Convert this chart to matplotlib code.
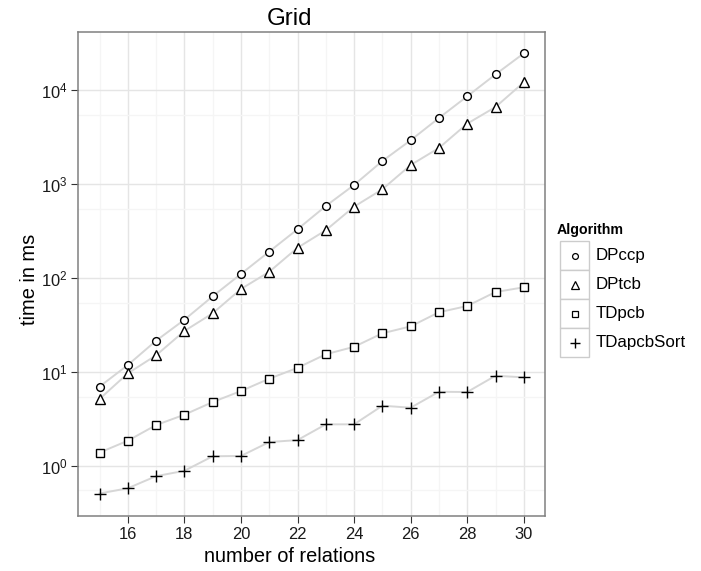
import numpy as np
import matplotlib
matplotlib.use("Agg")
import matplotlib.pyplot as plt
from matplotlib.patches import Rectangle
from matplotlib.ticker import FixedLocator, FuncFormatter

plt.rcParams['font.family'] = ['Liberation Sans', 'DejaVu Sans']
plt.rcParams['mathtext.fontset'] = 'custom'
plt.rcParams['mathtext.rm'] = 'Liberation Sans'
plt.rcParams['mathtext.it'] = 'Liberation Sans'

# --- data ---
relations = [15, 16, 17, 18, 19, 20, 21, 22, 23, 24, 25, 26, 27, 28, 29, 30]
dpccp = [7.0, 11.9, 21.6, 36.1, 64.1, 111, 192, 332, 587, 984,
         1770, 2944, 5080, 8650, 14800, 24800]
dptcb = [5.17, 9.7, 15.1, 27.4, 42.3, 76.7, 117, 211, 324, 578,
         885, 1603, 2437, 4424, 6650, 12200]
tdpcb = [1.39, 1.86, 2.73, 3.52, 4.80, 6.29, 8.51, 11.1, 15.5, 18.6,
         25.9, 30.7, 43.4, 50.6, 71.3, 80.0]
tdapcbsort = [0.51, 0.58, 0.78, 0.89, 1.27, 1.28, 1.80, 1.89, 2.78, 2.78,
              4.39, 4.18, 6.18, 6.14, 9.15, 8.80]

algorithms = ['DPccp', 'DPtcb', 'TDpcb', 'TDapcbSort']
series = [dpccp, dptcb, tdpcb, tdapcbsort]
# marker style per algorithm: (marker, size)
markers = [('o', 5.6), ('^', 7.4), ('s', 5.4), ('+', 8.5)]

x_major = [16, 18, 20, 22, 24, 26, 28, 30]
x_minor = [15, 17, 19, 21, 23, 25, 27, 29]
y_major = [1, 10, 100, 1000, 10000]
y_minor = [0.55, 5.5, 55, 550, 5500]

W, H = 701, 571
fig = plt.figure(figsize=(W / 100, H / 100), dpi=100)
ax = fig.add_axes([78.3 / W, 1 - 516 / H, (545 - 78.3) / W, (516 - 31.7) / H])

line_col = '#d6d6d6'
for vals, (m, ms) in zip(series, markers):
    ax.plot(relations, vals, color=line_col, lw=1.4, zorder=2)
    if m == '+':
        ax.plot(relations, vals, ls='none', marker=m, ms=ms, mew=1.0,
                color='black', zorder=3)
    else:
        ax.plot(relations, vals, ls='none', marker=m, ms=ms, mew=1.0,
                mfc='white', mec='black', zorder=3)

ax.set_yscale('log')
ax.set_xlim(14.25, 30.75)
ax.set_ylim(10 ** -0.532, 10 ** 4.625)

ax.xaxis.set_major_locator(FixedLocator(x_major))
ax.xaxis.set_minor_locator(FixedLocator(x_minor))
ax.yaxis.set_major_locator(FixedLocator(y_major))
ax.yaxis.set_minor_locator(FixedLocator(y_minor))
ax.yaxis.set_major_formatter(FuncFormatter(
    lambda v, p: r'$10^{%d}$' % int(round(np.log10(v)))))
ax.yaxis.set_minor_formatter(FuncFormatter(lambda v, p: ''))

ax.grid(True, which='major', color='#e5e5e5', lw=1.0, zorder=0)
ax.grid(True, which='minor', color='#f5f5f5', lw=1.0, zorder=0)
ax.set_axisbelow(True)

ax.tick_params(which='major', direction='out', length=5, width=0.8,
               color='#333333', labelsize=11.9, pad=3, labelcolor='#1a1a1a')
ax.tick_params(which='minor', length=0)
for s in ax.spines.values():
    s.set_color('#808080')
    s.set_linewidth(1.1)

ax.set_xlabel('number of relations', fontsize=14.4, labelpad=3)
ax.xaxis.set_label_coords((290 - 78.3) / (545 - 78.3), -0.063)
ax.set_ylabel('time in ms', fontsize=14.4, labelpad=3)
ax.yaxis.set_label_coords(-0.084, (516 - 279) / (516 - 31.7))
fig.text(290 / W, 1 - 25 / H, 'Grid', fontsize=17.3, ha='center', va='baseline')

# --- legend drawn in pixel coordinates ---
lax = fig.add_axes([0, 0, 1, 1])
lax.set_xlim(0, W)
lax.set_ylim(H, 0)
lax.axis('off')
lax.text(557, 234, 'Algorithm', fontsize=10.2, fontweight='bold',
         ha='left', va='baseline')
key = 29
top = 241
for i, (name, (m, ms)) in enumerate(zip(algorithms, markers)):
    y0 = top + i * key
    lax.add_patch(Rectangle((560, y0), key, key, facecolor='white',
                            edgecolor='#cccccc', lw=1.0))
    if m == '+':
        lax.plot([560 + key / 2], [y0 + key / 2], marker=m, ms=ms * 0.8,
                 mew=1.0, color='black')
    else:
        lax.plot([560 + key / 2], [y0 + key / 2], marker=m, ms=ms * 0.75,
                 mew=0.9, mfc='white', mec='black')
    lax.text(596, y0 + key / 2, name, fontsize=12.2, ha='left', va='center')

fig.savefig('out.png', dpi=100)
